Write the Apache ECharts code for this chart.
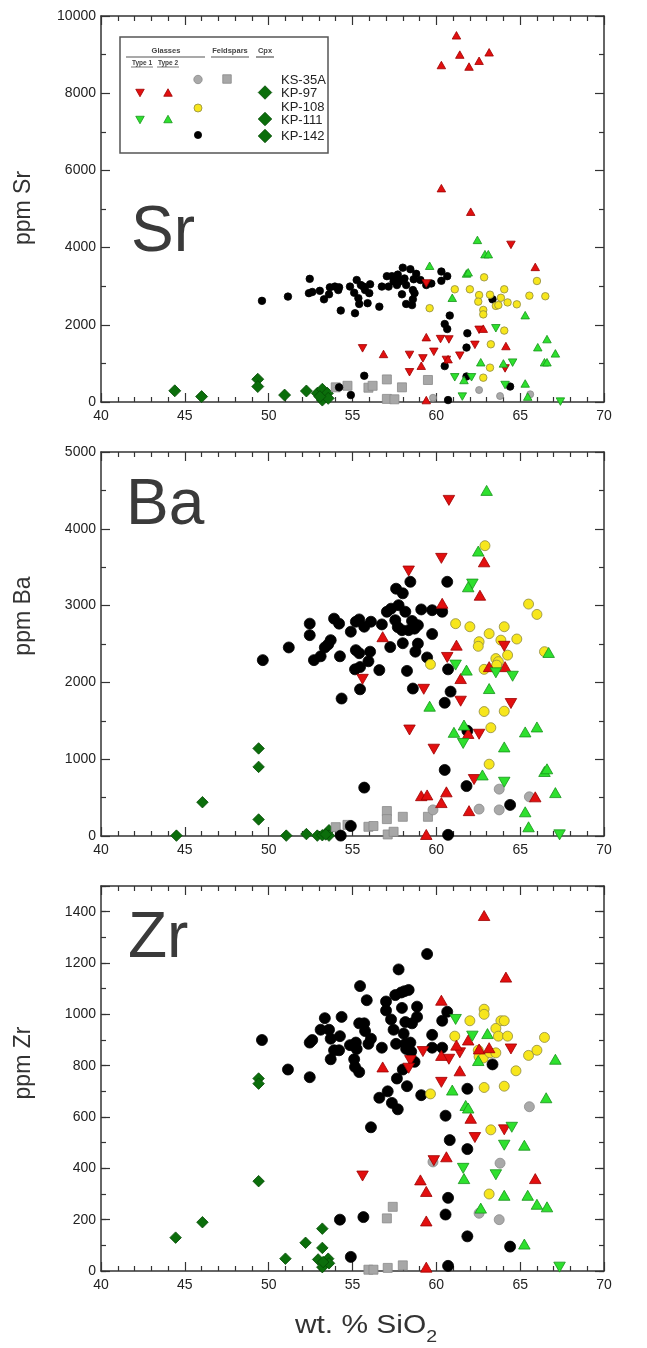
<!DOCTYPE html>
<html>
<head>
<meta charset="utf-8">
<script src="https://cdn.jsdelivr.net/npm/echarts@6/dist/echarts.min.js"></script>
<style>
html,body{margin:0;padding:0;background:#fff;}
#chart{width:647px;height:1348px;}
</style>
</head>
<body>
<div id="chart"></div>
<script>
// ---------- tick values ----------
const xTickValues  = [40, 45, 50, 55, 60, 65, 70];
const srTickValues = [0, 2000, 4000, 6000, 8000, 10000];
const baTickValues = [0, 1000, 2000, 3000, 4000, 5000];
const zrTickValues = [0, 200, 400, 600, 800, 1000, 1200, 1400];
const zrAxisMax = 1500;

// ---------- legend entries ----------
const sampleNames = ['KS-35A', 'KP-97', 'KP-108', 'KP-111', 'KP-142'];

// ---------- Sr (ppm) vs SiO2 (wt.%) ----------
const srCpx = [[44.4,290],[46.0,140],[49.35,590],[49.35,400],[50.95,180],[52.25,285],[52.9,225],[53.2,330],[53.2,50],[53.5,225],[53.55,95],[53.05,140]];
const srFeldspar = [[54.0,380],[54.7,420],[55.95,370],[56.2,420],[57.05,585],[57.95,380],[59.5,570],[57.05,80],[57.5,70]];
const srKS35A = [[62.55,310],[59.8,110],[63.8,155],[65.6,200]];
const srKP142 = [[49.6,2620],[51.15,2730],[52.45,3190],[52.4,2820],[52.6,2850],[53.05,2880],[53.3,2660],[53.6,2790],[53.65,2970],[53.95,2990],[54.2,2970],[54.15,2900],[54.3,2370],[54.85,2990],[55.1,2830],[55.25,3160],[55.35,2690],[55.4,2540],[55.5,3030],[55.15,2300],[55.65,2990],[55.75,2900],[55.9,2560],[56.05,3050],[56.0,2820],[56.6,2470],[56.75,2990],[57.05,3260],[57.15,2990],[57.35,3260],[57.45,3120],[57.65,3030],[57.7,3200],[57.8,3120],[57.7,3300],[58.0,3480],[57.95,2790],[58.1,3200],[58.2,3030],[58.2,2540],[58.45,3440],[58.6,2900],[58.55,2510],[58.65,3180],[58.7,2820],[58.6,2660],[58.8,3320],[59.05,3160],[59.4,3030],[59.7,3070],[60.3,3380],[60.3,3140],[60.65,3260],[60.8,2240],[60.5,2020],[60.65,1890],[61.85,1780],[61.8,1410],[63.35,2660],[60.5,930],[61.8,660],[55.7,680],[54.2,380],[54.9,180],[60.7,50],[64.4,400]];
const srKP108 = [[62.85,3230],[66.0,3135],[61.1,2920],[62.0,2920],[64.05,2920],[62.55,2770],[63.2,2780],[63.85,2700],[65.55,2755],[66.5,2740],[62.5,2600],[64.25,2580],[64.8,2530],[63.55,2490],[63.7,2510],[62.8,2385],[62.8,2270],[59.6,2430],[64.05,1850],[63.25,1495],[63.2,890],[62.8,630]];
const srKP97Type1 = [[64.45,4070],[59.4,3070],[60.25,1630],[60.75,1620],[59.85,1300],[62.55,1870],[62.3,1480],[61.4,1200],[60.6,1090],[59.2,1130],[58.4,1220],[55.6,1390],[58.4,770],[64.1,870]];
const srKP97Type2 = [[61.2,9500],[61.4,9000],[60.3,8730],[61.95,8690],[62.55,8840],[63.15,9060],[60.3,5540],[62.05,4930],[59.4,1680],[56.85,1245],[59.1,940],[64.15,1450],[62.8,1900],[65.9,3500],[59.4,50],[60.7,1110]];
const srKP111Type1 = [[63.55,1910],[64.55,1020],[61.1,640],[62.1,640],[64.1,440],[61.55,140],[67.4,10]];
const srKP111Type2 = [[62.45,4200],[62.9,3830],[63.1,3830],[59.6,3530],[61.8,3330],[61.9,3360],[60.95,2700],[65.3,2250],[66.6,1630],[66.05,1420],[67.1,1260],[66.45,1030],[66.6,1030],[62.65,1030],[64.0,1000],[61.65,570],[65.3,480],[65.45,140]];

// ---------- Ba (ppm) vs SiO2 (wt.%) ----------
const baCpx = [[44.5,5],[46.05,440],[49.4,1140],[49.4,900],[49.4,215],[51.05,5],[52.25,25],[52.9,5],[53.2,10],[53.6,75],[53.6,5],[53.4,20]];
const baFeldspar = [[54.0,115],[54.7,145],[55.95,120],[56.25,130],[57.05,325],[57.05,220],[58.0,250],[59.5,250],[57.1,20],[57.45,55]];
const baKS35A = [[59.8,340],[62.55,350],[63.75,340],[63.75,610],[65.55,510]];
const baKP142 = [[49.65,2290],[51.2,2455],[52.45,2765],[52.45,2615],[52.7,2290],[53.1,2340],[53.35,2455],[53.55,2495],[53.7,2550],[53.9,2830],[54.2,2765],[54.25,2340],[54.35,1790],[54.9,2660],[55.2,2420],[55.4,2380],[55.15,2170],[55.45,2200],[55.2,2790],[55.4,2820],[55.45,1910],[55.7,2725],[55.95,2275],[56.05,2400],[56.1,2790],[56.6,2160],[56.75,2755],[57.05,2920],[57.3,2960],[57.25,2460],[57.6,3220],[58.0,3160],[57.75,3005],[57.55,2810],[57.7,2720],[57.95,2680],[58.0,2510],[58.15,2920],[58.25,2150],[58.35,2680],[58.45,3310],[58.55,2800],[58.7,2700],[58.75,2400],[58.9,2745],[58.9,2505],[58.6,1920],[59.1,2950],[59.45,2325],[59.75,2940],[59.75,2630],[60.35,2920],[60.65,3310],[60.7,2170],[60.85,1880],[60.5,1735],[60.5,860],[61.8,650],[61.85,1370],[64.4,405],[55.7,630],[54.3,5],[54.9,130],[60.7,15]];
const baKP108 = [[62.9,3780],[65.5,3020],[66.0,2885],[61.15,2765],[62.0,2725],[62.55,2530],[62.5,2470],[63.15,2635],[64.05,2725],[63.85,2550],[64.8,2565],[66.45,2400],[64.25,2355],[63.55,2310],[63.7,2270],[63.6,2225],[62.85,2170],[59.65,2235],[62.85,1620],[64.05,1625],[63.25,1410],[63.15,935]];
const baKP97Type1 = [[60.75,4370],[60.3,3615],[58.35,3450],[64.05,2470],[60.65,2325],[55.6,2040],[59.25,1910],[61.45,1755],[64.45,1725],[58.4,1380],[62.55,1325],[59.85,1130],[62.25,735]];
const baKP97Type2 = [[62.85,3570],[62.6,3135],[60.35,3030],[56.8,2595],[61.2,2485],[61.45,2050],[63.15,2205],[64.1,2205],[61.9,1335],[59.1,525],[59.45,535],[60.3,435],[60.6,575],[61.95,330],[65.9,510],[59.4,20]];
const baKP111Type1 = [[62.15,3280],[61.15,2225],[63.55,2125],[64.55,2080],[61.6,1205],[64.05,700],[67.35,15]];
const baKP111Type2 = [[63.0,4500],[62.5,3710],[61.9,3245],[61.8,2160],[63.15,1920],[59.6,1690],[61.65,1445],[61.05,1350],[65.3,1355],[66.0,1420],[64.05,1160],[62.75,795],[66.45,840],[66.6,875],[67.1,565],[65.3,315],[65.5,120],[66.7,2390]];

// ---------- Zr (ppm) vs SiO2 (wt.%) ----------
const zrCpx = [[44.45,130],[46.05,190],[49.4,750],[49.4,730],[49.4,350],[51.0,48],[52.2,110],[53.2,165],[53.2,90],[52.95,45],[53.2,15],[53.55,48],[53.6,30],[53.25,35]];
const zrFeldspar = [[57.4,250],[57.05,205],[55.95,5],[56.25,5],[57.1,12],[58.0,22]];
const zrKS35A = [[65.55,640],[59.8,425],[63.8,420],[62.55,225],[63.75,200]];
const zrKP142 = [[49.6,900],[51.15,785],[52.45,755],[52.45,890],[52.6,900],[53.1,940],[53.35,985],[53.6,940],[53.7,905],[53.7,825],[53.9,860],[54.2,860],[54.25,915],[54.35,990],[54.85,880],[55.1,825],[55.2,890],[55.25,865],[55.15,795],[55.4,775],[55.45,1110],[55.4,965],[55.7,965],[55.75,935],[55.85,1055],[55.95,885],[56.1,905],[56.1,560],[56.6,675],[56.75,870],[57.0,1050],[57.0,1015],[57.1,700],[57.3,980],[57.35,655],[57.45,940],[57.6,885],[57.65,750],[57.7,630],[57.75,1175],[57.55,1075],[57.9,1085],[58.1,1090],[57.95,1025],[58.05,925],[58.0,785],[58.15,885],[58.2,865],[58.15,970],[58.25,720],[58.35,1095],[58.45,890],[58.5,855],[58.55,965],[58.7,815],[58.85,1030],[58.85,990],[59.1,685],[59.45,1235],[59.75,920],[59.75,870],[60.35,975],[60.35,870],[60.65,1010],[60.55,605],[60.8,510],[61.85,710],[61.85,475],[63.35,805],[60.7,285],[60.55,220],[61.85,135],[64.4,95],[55.65,210],[54.25,200],[54.9,55],[60.7,20]];
const zrKP108 = [[62.85,1020],[62.85,1000],[62.0,975],[63.85,975],[64.05,975],[63.55,945],[61.1,915],[63.7,915],[64.25,915],[66.45,910],[62.5,860],[62.55,835],[62.8,830],[63.2,850],[63.55,850],[65.5,840],[66.0,860],[64.75,780],[62.85,715],[64.05,720],[59.65,690],[63.25,550],[63.15,300]];
const zrKP97Type1 = [[64.45,865],[59.2,855],[60.75,825],[61.4,850],[58.45,820],[58.35,790],[60.3,735],[64.05,550],[62.3,520],[59.85,430],[55.6,370]];
const zrKP97Type2 = [[62.85,1385],[64.15,1145],[60.3,1055],[61.9,900],[61.2,880],[62.55,865],[63.15,870],[60.3,840],[61.4,780],[56.8,795],[62.05,595],[60.6,445],[59.05,355],[59.4,310],[65.9,360],[59.4,195],[59.4,15]];
const zrKP111Type1 = [[61.15,980],[62.15,915],[64.5,560],[64.05,490],[61.6,400],[63.55,375],[67.35,15]];
const zrKP111Type2 = [[63.05,925],[62.5,820],[67.1,825],[60.95,705],[66.55,675],[61.75,645],[61.9,635],[65.25,490],[61.65,360],[64.05,295],[65.45,295],[66.0,260],[66.6,250],[62.65,245],[65.25,105]];

// ---------- styling ----------
const FONT = '"Liberation Sans", Arial, Helvetica, sans-serif';
const FRAME = '#333333';
const INK = '#222222';

const KIND = {
  cpx:     { symbol: 'diamond',  rotate: 0,   color: '#0b6e0b', border: '#054a05' },
  fsp:     { symbol: 'rect',     rotate: 0,   color: '#a7a7a7', border: '#8a8a8a' },
  gray:    { symbol: 'circle',   rotate: 0,   color: '#a9a9a9', border: '#8c8c8c' },
  black:   { symbol: 'circle',   rotate: 0,   color: '#000000', border: '#000000' },
  yellow:  { symbol: 'circle',   rotate: 0,   color: '#f7e61c', border: '#8f8a40' },
  redDn:   { symbol: 'triangle', rotate: 180, color: '#e20f0f', border: '#9e0000' },
  redUp:   { symbol: 'triangle', rotate: 0,   color: '#e20f0f', border: '#9e0000' },
  greenDn: { symbol: 'triangle', rotate: 180, color: '#2ee02e', border: '#17941a' },
  greenUp: { symbol: 'triangle', rotate: 0,   color: '#2ee02e', border: '#17941a' }
};

const SIZE_SMALL = { cpx: 12, fsp: 9, gray: 7, black: 7.5, yellow: 7.5, tri: [8.5, 7.5] };
const SIZE_LARGE = { cpx: 11.5, fsp: 9, gray: 10, black: 11, yellow: 10, tri: [11.5, 10] };

const PANELS = [
  { grid: { left: 101, top: 16, width: 503, height: 386 }, yTicks: srTickValues, yMax: 10000, ySplit: 2, sizes: SIZE_SMALL,
    layers: [['cpx', srCpx], ['fsp', srFeldspar], ['gray', srKS35A], ['black', srKP142], ['yellow', srKP108],
             ['redDn', srKP97Type1], ['redUp', srKP97Type2], ['greenDn', srKP111Type1], ['greenUp', srKP111Type2]] },
  { grid: { left: 101, top: 452, width: 503, height: 384 }, yTicks: baTickValues, yMax: 5000, ySplit: 2, sizes: SIZE_LARGE,
    layers: [['cpx', baCpx], ['fsp', baFeldspar], ['gray', baKS35A], ['black', baKP142], ['yellow', baKP108],
             ['redDn', baKP97Type1], ['redUp', baKP97Type2], ['greenDn', baKP111Type1], ['greenUp', baKP111Type2]] },
  { grid: { left: 101, top: 886, width: 503, height: 385 }, yTicks: zrTickValues, yMax: zrAxisMax, ySplit: 0, minorStep: 100, sizes: SIZE_LARGE,
    layers: [['cpx', zrCpx], ['fsp', zrFeldspar], ['gray', zrKS35A], ['black', zrKP142], ['yellow', zrKP108],
             ['redDn', zrKP97Type1], ['redUp', zrKP97Type2], ['greenDn', zrKP111Type1], ['greenUp', zrKP111Type2]] }
];

const grids = [], xAxes = [], yAxes = [], series = [];

function lineStyle(w) { return { color: FRAME, width: w }; }

function valueAxis(extra) {
  return Object.assign({
    type: 'value',
    splitLine: { show: false },
    minorSplitLine: { show: false },
    axisLine: { show: true, onZero: false, lineStyle: lineStyle(1.5) },
    axisTick: { show: true, inside: true, length: 9, lineStyle: lineStyle(1.2) },
    axisLabel: { show: false }
  }, extra);
}

const xMin = xTickValues[0], xMax = xTickValues[xTickValues.length - 1];
const xStep = xTickValues[1] - xTickValues[0];

PANELS.forEach((p, gi) => {
  grids.push(Object.assign({ outerBoundsMode: 'none', containLabel: false }, p.grid));

  const yMin = p.yTicks[0];
  const yStep = p.yTicks[1] - p.yTicks[0];
  const xIdx = xAxes.length;
  const xLabel = { show: true, fontSize: 14, color: INK, fontFamily: FONT, margin: 7 };
  const xMinor = { show: true, splitNumber: 5, length: 5, lineStyle: lineStyle(1.2) };
  xAxes.push(valueAxis({ gridIndex: gi, position: 'bottom', min: xMin, max: xMax, interval: xStep, minorTick: xMinor, axisLabel: xLabel }));
  xAxes.push(valueAxis({ gridIndex: gi, position: 'top', min: xMin, max: xMax, interval: xStep, minorTick: xMinor }));

  const yIdx = yAxes.length;
  const yMinor = p.ySplit ? { show: true, splitNumber: p.ySplit, length: 5, lineStyle: lineStyle(1.2) } : { show: false };
  const yLabel = { show: true, fontSize: 14, color: INK, fontFamily: FONT, margin: 5,
                   formatter: v => (p.yTicks.indexOf(v) >= 0 ? String(v) : '') };
  yAxes.push(valueAxis({ gridIndex: gi, position: 'left', min: yMin, max: p.yMax, interval: yStep, minorTick: yMinor, axisLabel: yLabel }));
  yAxes.push(valueAxis({ gridIndex: gi, position: 'right', min: yMin, max: p.yMax, interval: yStep, minorTick: yMinor }));
  if (p.minorStep) {
    // short ticks every minorStep on both sides (axis top is not a major tick)
    ['left', 'right'].forEach(pos => {
      yAxes.push(valueAxis({ gridIndex: gi, position: pos, min: yMin, max: p.yMax, interval: p.minorStep,
        axisLine: { show: false, onZero: false }, axisTick: { show: true, inside: true, length: 5, lineStyle: lineStyle(1.2) } }));
    });
  }

  p.layers.forEach(([kind, data]) => {
    const k = KIND[kind];
    let size;
    if (kind.indexOf('red') === 0 || kind.indexOf('green') === 0) size = p.sizes.tri;
    else size = p.sizes[kind];
    series.push({
      type: 'scatter',
      xAxisIndex: xIdx,
      yAxisIndex: yIdx,
      data: data,
      symbol: k.symbol,
      symbolRotate: k.rotate,
      symbolSize: size,
      itemStyle: { color: k.color, borderColor: k.border, borderWidth: 0.8, opacity: 1 },
      emphasis: { disabled: true },
      silent: true,
      animation: false
    });
  });
});

// ---------- text & legend graphics ----------
const graphics = [];

function label(x, y, text, font, align, fill) {
  return { type: 'text', x: x, y: y, silent: true,
    style: { text: text, font: font, fill: fill || INK, textAlign: align || 'left', textVerticalAlign: 'middle' } };
}
function seg(x1, y1, x2, y2, color, w) {
  return { type: 'line', silent: true, shape: { x1: x1, y1: y1, x2: x2, y2: y2 }, style: { stroke: color || '#555', lineWidth: w || 1.2 } };
}
function tri(cx, cy, w, h, down, k) {
  const pts = down ? [[cx - w / 2, cy - h / 2], [cx + w / 2, cy - h / 2], [cx, cy + h / 2]]
                   : [[cx - w / 2, cy + h / 2], [cx + w / 2, cy + h / 2], [cx, cy - h / 2]];
  return { type: 'polygon', silent: true, shape: { points: pts }, style: { fill: k.color, stroke: k.border, lineWidth: 0.8 } };
}
function dia(cx, cy, s, k) {
  return { type: 'polygon', silent: true, shape: { points: [[cx, cy - s / 2], [cx + s / 2, cy], [cx, cy + s / 2], [cx - s / 2, cy]] },
           style: { fill: k.color, stroke: k.border, lineWidth: 0.8 } };
}
function dot(cx, cy, r, k) {
  return { type: 'circle', silent: true, shape: { cx: cx, cy: cy, r: r }, style: { fill: k.color, stroke: k.border, lineWidth: 0.8 } };
}
function sq(cx, cy, s, k) {
  return { type: 'rect', silent: true, shape: { x: cx - s / 2, y: cy - s / 2, width: s, height: s }, style: { fill: k.color, stroke: k.border, lineWidth: 0.8 } };
}

// element labels inside each panel
const BIG = '64px ' + FONT;
graphics.push(label(131, 233, 'Sr', BIG, 'left', '#3a3a3a'));
graphics.push(label(126, 506, 'Ba', BIG, 'left', '#3a3a3a'));
graphics.push(label(128, 939, 'Zr', BIG, 'left', '#3a3a3a'));

// y-axis titles
const YT = '23px ' + FONT;
[['ppm Sr', 208], ['ppm Ba', 616], ['ppm Zr', 1063]].forEach(([t, cy]) => {
  graphics.push({ type: 'text', x: 24, y: cy, rotation: Math.PI / 2, silent: true,
    style: { text: t, font: YT, fill: '#333', textAlign: 'center', textVerticalAlign: 'middle' } });
});

// x-axis title with subscript
(function () {
  const fs = 26, fsSub = 17;
  const c = document.createElement('canvas').getContext('2d');
  c.font = fs + 'px ' + FONT;
  const wMain = c.measureText('wt. % SiO').width;
  c.font = fsSub + 'px ' + FONT;
  const wSub = c.measureText('2').width;
  const sx = 1.15;
  const total = (wMain + wSub) * sx;
  const left = 366 - total / 2;
  graphics.push({ type: 'group', x: left, y: 1326, scaleX: sx, silent: true, children: [
    { type: 'text', x: 0, y: 0, style: { text: 'wt. % SiO', font: fs + 'px ' + FONT, fill: '#333', textAlign: 'left', textVerticalAlign: 'middle' } },
    { type: 'text', x: wMain, y: 11, style: { text: '2', font: fsSub + 'px ' + FONT, fill: '#333', textAlign: 'left', textVerticalAlign: 'middle' } }
  ] });
})();

// legend box
graphics.push({ type: 'rect', silent: true, shape: { x: 120, y: 37, width: 208, height: 116 }, style: { fill: '#ffffff', stroke: '#555', lineWidth: 1.5 } });
const HB = 'bold 7.5px ' + FONT;
const HS = 'bold 6.5px ' + FONT;
graphics.push(label(166, 51, 'Glasses', HB, 'center', '#444'));
graphics.push(label(230, 51, 'Feldspars', HB, 'center', '#444'));
graphics.push(label(265, 51, 'Cpx', HB, 'center', '#444'));
graphics.push(seg(126, 57, 205, 57), seg(211, 57, 249, 57), seg(256, 57, 274, 57));
graphics.push(label(142, 63, 'Type 1', HS, 'center', '#444'));
graphics.push(label(168, 63, 'Type 2', HS, 'center', '#444'));
graphics.push(seg(131, 67, 153, 67, '#555', 0.8), seg(157, 67, 179, 67, '#555', 0.8));

const rowsY = [80, 93, 107, 120, 136];
const LT = '13px ' + FONT;
sampleNames.forEach((name, i) => {
  graphics.push(label(281, rowsY[i], name, LT, 'left', INK));
});
graphics.push(dot(198, 79.5, 4.2, KIND.gray), sq(227, 79, 8.5, KIND.fsp));
graphics.push(tri(140, 93, 8.5, 7.5, true, KIND.redDn), tri(168, 92.5, 8.5, 7.5, false, KIND.redUp), dia(265, 92.5, 13.5, KIND.cpx));
graphics.push(dot(198, 108, 4, KIND.yellow));
graphics.push(tri(140, 120, 8.5, 7.5, true, KIND.greenDn), tri(168, 119, 8.5, 7.5, false, KIND.greenUp), dia(265, 119, 13.5, KIND.cpx));
graphics.push(dot(198, 135, 3.6, KIND.black), dia(265, 136, 13.5, KIND.cpx));

const chart = echarts.init(document.getElementById('chart'), null, { renderer: 'canvas' });
chart.setOption({
  animation: false,
  backgroundColor: '#ffffff',
  grid: grids,
  xAxis: xAxes,
  yAxis: yAxes,
  series: series,
  graphic: { elements: graphics }
});
</script>
</body>
</html>
